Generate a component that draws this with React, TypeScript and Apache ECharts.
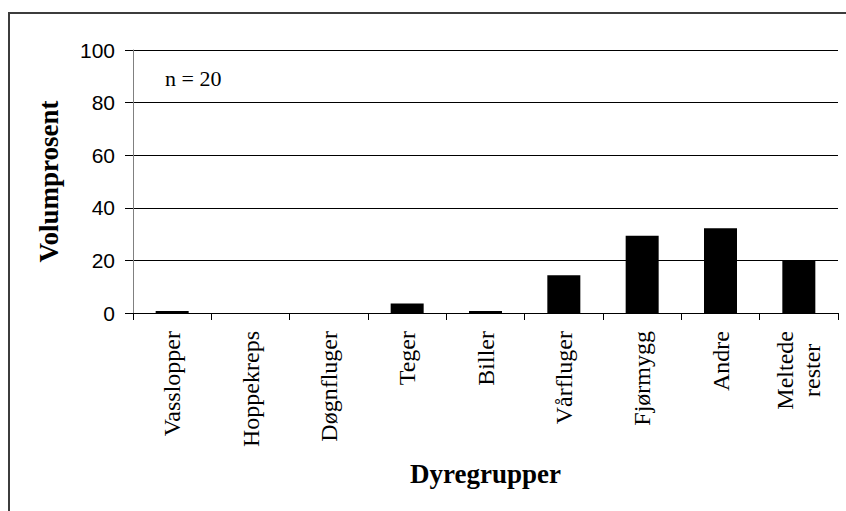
import React, { useEffect, useRef } from "react";
import * as echarts from "echarts";

const categories = [
  "Vasslopper",
  "Hoppekreps",
  "Døgnfluger",
  "Teger",
  "Biller",
  "Vårfluger",
  "Fjørmygg",
  "Andre",
  "Meltede\nrester",
];
const values = [0.8, 0, 0, 3.6, 0.8, 14.4, 29.4, 32.2, 19.9];
const yTicks = { min: 0, max: 100, interval: 20 };
const sampleNote = "n = 20";
const xName = "Dyregrupper";
const yName = "Volumprosent";

export default function App() {
  const ref = useRef<HTMLDivElement>(null);
  useEffect(() => {
    if (!ref.current) return;
    const chart = echarts.init(ref.current, null, { renderer: "svg" });
    chart.setOption({
      animation: false,
      backgroundColor: "#ffffff",
      grid: { left: 133, right: 8, top: 50, bottom: 198, containLabel: false },
      xAxis: {
        type: "category",
        data: categories,
        name: xName,
        nameLocation: "middle",
        nameGap: 147,
        nameTextStyle: {
          fontFamily: "Liberation Serif",
          fontWeight: "bold",
          fontSize: 27,
          color: "#000",
        },
        axisLine: { lineStyle: { color: "#000", width: 1 } },
        axisTick: { show: true, length: 7, lineStyle: { color: "#000" } },
        axisLabel: {
          rotate: 90,
          margin: 18,
          interval: 0,
          fontFamily: "Liberation Serif",
          fontSize: 24,
          color: "#000",
          formatter: (v: string) =>
            v
              .split("\n")
              .map((s) => "{c|" + s + "}")
              .join("\n"),
          rich: {
            c: {
              align: "center",
              fontFamily: "Liberation Serif",
              fontSize: 24,
              color: "#000",
              lineHeight: 27,
            },
          },
        },
        splitLine: { show: false },
      },
      yAxis: {
        type: "value",
        min: yTicks.min,
        max: yTicks.max,
        interval: yTicks.interval,
        name: yName,
        nameLocation: "middle",
        nameGap: 71,
        nameTextStyle: {
          fontFamily: "Liberation Serif",
          fontWeight: "bold",
          fontSize: 27,
          color: "#000",
        },
        axisLine: { show: true, lineStyle: { color: "#808080", width: 1 } },
        axisTick: { show: true, length: 8, lineStyle: { color: "#000" } },
        axisLabel: {
          margin: 18,
          fontFamily: "Liberation Sans",
          fontSize: 21,
          color: "#000",
        },
        splitLine: { show: true, lineStyle: { color: "#000", width: 1 } },
      },
      series: [
        {
          type: "bar",
          data: values,
          barWidth: 33,
          itemStyle: { color: "#000" },
        },
      ],
      graphic: [
        {
          type: "line",
          shape: { x1: 9, y1: 13, x2: 846, y2: 13 },
          style: { stroke: "#3c3c3c", lineWidth: 2 },
        },
        {
          type: "line",
          shape: { x1: 9, y1: 12, x2: 9, y2: 511 },
          style: { stroke: "#3c3c3c", lineWidth: 2 },
        },
        {
          type: "text",
          x: 165,
          y: 78,
          style: {
            text: sampleNote,
            fontFamily: "Liberation Serif",
            fontSize: 22,
            fill: "#000",
            verticalAlign: "middle",
          },
        },
      ],
    });
    return () => chart.dispose();
  }, []);
  return (
    <div
      ref={ref}
      style={{ position: "absolute", left: 0, top: 0, width: 846, height: 511 }}
    />
  );
}
